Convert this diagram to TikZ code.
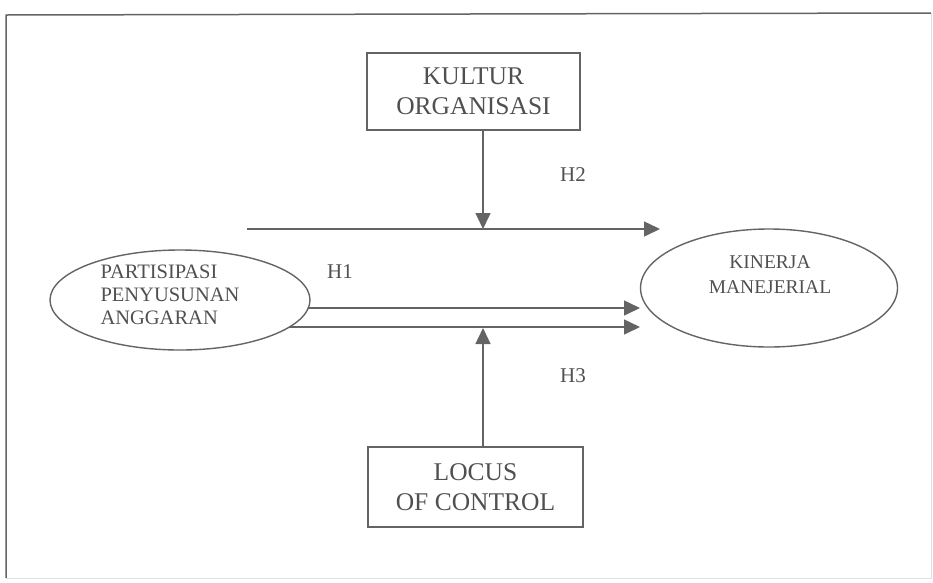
\documentclass[tikz,border=0pt]{standalone}
\usepackage{fontspec}
\setmainfont{Liberation Serif}
\usetikzlibrary{arrows.meta,shapes.geometric}
\definecolor{ink}{RGB}{80,80,80}
\definecolor{linec}{RGB}{100,100,100}
\begin{document}
\begin{tikzpicture}[x=1pt,y=-1pt,
  boxn/.style={draw=linec, line width=1.6pt, rectangle, inner sep=0pt, align=center, text=ink, font=\fontsize{25.5}{30}\selectfont},
  ell/.style={draw=linec, line width=1.4pt, ellipse, inner sep=0pt},
  bigtxt/.style={text=ink, inner sep=0pt, font=\fontsize{20.5}{23.3}\selectfont},
  kintxt/.style={text=ink, inner sep=0pt, align=center, font=\fontsize{19.5}{25}\selectfont},
  hlab/.style={text=ink, inner sep=0pt, font=\fontsize{21}{24}\selectfont},
  arr/.style={draw=linec, line width=1.5pt, -{Triangle[length=16pt,width=15pt]}}
]
\useasboundingbox (0,0) rectangle (933,582);
% frame
\draw[linec, line width=1.5pt] (6,578) -- (6,15) -- (931,13);
\draw[black!12, line width=1pt] (931,13) -- (931,578) -- (6,578);

% boxes
\node[boxn, minimum width=213pt, minimum height=77pt] (kultur) at (473.5,91.5) {KULTUR\\ORGANISASI};
\node[boxn, minimum width=215pt, minimum height=80pt] (locus) at (475.5,487) {LOCUS\\OF CONTROL};

% ellipses
\node[ell, minimum width=260pt, minimum height=100pt] (part) at (180,300) {};
\node[bigtxt, align=left] (parttxt) at (170,295) {PARTISIPASI\\PENYUSUNAN\\ANGGARAN};
\node[ell, minimum width=257pt, minimum height=118pt] (kin) at (769,288) {};
\node[kintxt] (kinlbl) at (770,275) {KINERJA\\MANEJERIAL};

% coordinates of connector ends
\coordinate (a1) at (247,229);
\coordinate (a2) at (660,229);
\coordinate (b1) at (308,308);
\coordinate (b2) at (640,308);
\coordinate (c1) at (289,327);
\coordinate (c2) at (640,327);
\coordinate (m2) at (483,229);
\coordinate (m3) at (483,328);

% connectors
\draw[arr] (a1) -- (a2);
\draw[arr] (b1) -- (b2);
\draw[arr] (c1) -- (c2);
\draw[arr] (kultur.south -| m2) -- (m2);
\draw[arr] (locus.north -| m3) -- (m3);

% labels
\node[hlab] (h1) at (340,272) {H1};
\node[hlab] (h2) at (573,175) {H2};
\node[hlab] (h3) at (573,376) {H3};
\end{tikzpicture}
\end{document}
